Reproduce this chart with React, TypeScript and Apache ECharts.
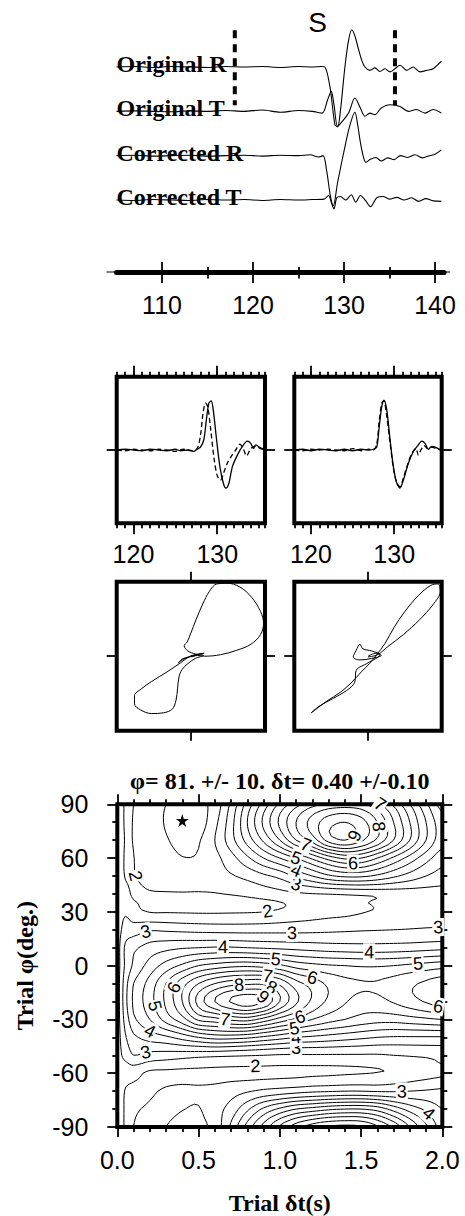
import React, { useEffect, useRef } from "react";
import * as echarts from "echarts";

const SANS = '"Liberation Sans", Arial, Helvetica, sans-serif';
const SERIF = '"Liberation Serif", "Times New Roman", Times, serif';

// ---------------- panel 1 : seismograms (time s, amplitude in trace spacings) ----------------
const TRACE_NAMES = ["Original R", "Original T", "Corrected R", "Corrected T"];
const ORIG_R = [[105,0],[107,0.01],[109,-0.01],[111,0.01],[113,0],[115,-0.01],[117,0.01],[119,0],[121,0.01],[123,-0.01],[125,0.01],[126.5,0],[127.5,0.01],[127.9,0],[128.46,-0.45],[129.0,-1.3],[129.3,-1.35],[129.6,-1.0],[130.1,0],[130.5,0.6],[130.85,0.84],[131.2,0.7],[131.57,0.42],[131.95,0.15],[132.3,0],[132.85,-0.075],[133.4,-0.02],[133.95,-0.1],[134.5,-0.04],[135.05,-0.11],[135.6,-0.04],[136.15,0.04],[136.88,-0.075],[137.6,0],[138.35,-0.11],[139.1,-0.075],[139.8,-0.04],[140.7,0.13]];
const ORIG_T = [[105,0],[107,0.01],[109,0],[111,-0.01],[113,0.01],[115,0],[117,0.02],[119,0],[121,0.03],[123,-0.02],[125,0.02],[126.5,0],[127.6,-0.04],[128.2,0.26],[128.6,0.45],[128.9,0.15],[129.3,-0.34],[129.8,-0.23],[130.5,-0.04],[131.2,0.3],[131.8,0.075],[132.3,-0.11],[132.85,-0.04],[133.4,-0.075],[134.1,0.075],[135.05,0.15],[136.15,0.11],[137.05,0],[137.97,0.04],[138.9,-0.04],[139.8,0.04],[140.7,-0.04]];
const CORR_R = [[105,0],[107,0.01],[109,-0.01],[111,0],[113,0.01],[115,-0.01],[117,0],[119,0.01],[121,-0.01],[123,0.01],[125,0],[126.3,0.02],[127.2,-0.03],[127.7,0],[128.1,-0.35],[128.5,-0.9],[128.82,-1.13],[129.3,-0.6],[130.0,0.1],[130.6,0.65],[131.2,0.98],[131.5,0.7],[131.8,0.3],[132.1,0],[132.4,-0.15],[132.9,-0.08],[133.5,-0.04],[134.1,-0.12],[134.8,-0.05],[135.5,-0.09],[136.2,0],[137.0,-0.04],[137.8,0.02],[138.6,-0.05],[139.4,0],[140.0,0.03],[140.7,0.13]];
const CORR_T = [[105,0],[107,-0.01],[109,0.01],[111,0],[113,-0.01],[115,0.01],[117,0],[119,0.01],[121,-0.01],[123,0.01],[125,0],[126.5,0.01],[127.8,0.02],[128.3,0.1],[128.6,-0.05],[128.9,-0.2],[129.2,0.05],[129.6,0.08],[130.2,0],[130.8,0.12],[131.3,-0.05],[131.8,0.1],[132.4,-0.02],[132.9,-0.15],[133.6,0.05],[134.3,0.08],[135.0,0.02],[135.8,0.06],[136.6,0],[137.4,0.05],[138.2,-0.03],[139.0,0.03],[139.8,-0.02],[140.7,-0.03]];
const TRACES = [ORIG_R, ORIG_T, CORR_R, CORR_T];
const WINDOW_T = [118.0, 135.6];
const WINDOW_TOP = 0.83;
const WINDOW_BOTTOM = -0.86;
const PHASE_NAME = "S";
const PHASE_T = 127.1;
const PHASE_Y = 1.0;
const TRACE_TICKS = [110, 120, 130, 140];
const TRACE_MINOR_TICKS = [115, 125, 135];

// ---------------- panel 2 : fast / slow overlays ----------------
const WAVE_TICKS = [120, 130];
const LEFT_SOLID = [[118,0],[119,0.01],[120,0],[121,-0.01],[122,0.01],[123,0],[124,-0.01],[125,0.01],[125.6,-0.01],[126.5,0],[127.2,-0.02],[127.6,0.01],[128.0,0.04],[128.4,0.14],[128.7,0.41],[129.0,0.64],[129.28,0.67],[129.52,0.55],[129.92,0.14],[130.32,-0.23],[130.72,-0.45],[131.04,-0.52],[131.4,-0.45],[131.8,-0.23],[132.4,-0.07],[133.0,0.05],[133.6,0.12],[134.0,0.09],[134.33,0.02],[134.6,0.07],[135.0,0.04],[135.6,0.01]];
const LEFT_DASHED = [[118,0],[119,-0.01],[120,0.01],[121,0],[122,-0.01],[123,0.01],[124,0],[125,-0.02],[126,0.01],[127,-0.01],[127.6,0.02],[128.0,0.2],[128.3,0.5],[128.6,0.64],[128.85,0.6],[129.2,0.3],[129.6,-0.1],[130.0,-0.35],[130.4,-0.41],[130.8,-0.3],[131.2,-0.18],[131.7,-0.08],[132.2,0],[132.7,0.08],[133.1,0.02],[133.5,-0.08],[134.0,0.02],[134.5,0.05],[135.0,0.03],[135.6,0]];
const RIGHT_SOLID = [[118,0],[119,0.01],[120,-0.01],[121,0.01],[122,0],[123,-0.01],[124,0.01],[125,-0.01],[126,0.01],[127,0],[127.5,0.01],[127.9,0.04],[128.2,0.32],[128.5,0.59],[128.77,0.68],[129.1,0.55],[129.5,0.14],[129.9,-0.23],[130.3,-0.45],[130.69,-0.52],[131.1,-0.41],[131.7,-0.18],[132.3,-0.02],[132.9,0.07],[133.3,0.12],[133.7,0.09],[134.1,0.01],[134.5,0.05],[134.9,0.04],[135.6,0]];
const RIGHT_DASHED = [[118,0],[119,-0.01],[120,0.01],[121,0],[122,0.01],[123,0],[124,-0.01],[125,0.02],[126,-0.01],[127,0.01],[127.5,0],[127.9,0.08],[128.2,0.4],[128.5,0.64],[128.75,0.67],[129.05,0.5],[129.5,0.1],[129.9,-0.25],[130.3,-0.45],[130.7,-0.5],[131.1,-0.38],[131.6,-0.2],[132.1,-0.05],[132.6,0.02],[132.9,-0.07],[133.2,0],[133.6,0.06],[134.0,0.02],[134.5,0.04],[135.0,0.02],[135.6,0]];

// ---------------- panel 3 : particle motion (normalised) ----------------
const PM_LEFT = [[0,0],[0.1,0.03],[0.18,0.04],[0.06,0.01],[-0.08,-0.03],[-0.17,-0.09],[-0.12,-0.04],[-0.03,-0.01],[0.08,0.02],[-0.01,0],[-0.14,-0.09],[-0.32,-0.21],[-0.53,-0.34],[-0.67,-0.44],[-0.76,-0.53],[-0.76,-0.64],[-0.68,-0.72],[-0.53,-0.77],[-0.37,-0.76],[-0.25,-0.71],[-0.2,-0.59],[-0.18,-0.44],[-0.16,-0.28],[-0.12,-0.18],[-0.04,-0.1],[0.06,-0.03],[0.17,0.01],[0.06,0.03],[-0.04,0.07],[-0.09,0.14],[-0.05,0.19],[0,0.31],[0.07,0.49],[0.16,0.7],[0.25,0.87],[0.35,0.97],[0.49,0.98],[0.66,0.93],[0.82,0.79],[0.94,0.6],[0.98,0.44],[0.94,0.29],[0.81,0.16],[0.62,0.08],[0.4,0.02],[0.19,0],[0.09,0.01],[0.01,-0.01]];
const PM_RIGHT = [[0,0],[0.11,0.04],[0.18,0.01],[0.05,-0.03],[-0.11,-0.05],[-0.2,-0.01],[-0.16,0.08],[-0.11,0.16],[-0.07,0.1],[0.05,0.07],[0.16,0.02],[0,-0.09],[-0.16,-0.19],[-0.18,-0.35],[-0.29,-0.46],[-0.48,-0.57],[-0.66,-0.67],[-0.77,-0.76],[-0.73,-0.73],[-0.57,-0.61],[-0.37,-0.48],[-0.23,-0.36],[-0.09,-0.21],[0.02,-0.1],[0.11,0.01],[0.23,0.17],[0.35,0.38],[0.5,0.6],[0.68,0.81],[0.85,0.95],[0.95,0.97],[0.98,0.87],[0.88,0.69],[0.7,0.49],[0.48,0.29],[0.27,0.13],[0.13,0.02],[0,-0.01]];

// ---------------- panel 4 : energy grid (rows = trial phi, cols = trial dt) ----------------
const DT_GRID = [0, 0.05, 0.1, 0.2, 0.3, 0.4, 0.5, 0.6, 0.7, 0.8, 0.9, 1.0, 1.1, 1.2, 1.3, 1.4, 1.5, 1.6, 1.7, 1.8, 1.9, 2.0];
const PHI_GRID = [90, 80, 70, 60, 50, 40, 35, 30, 20, 10, 0, -10, -20, -30, -40, -50, -55, -60, -70, -80, -90];
const ENERGY = [
  [2.3,1.95,2.0,2.15,2.0,1.75,1.85,2.2,3.1,4.2,5.2,6.1,6.8,7.3,7.6,7.7,7.6,7.1,6.4,5.5,4.6,3.8],
  [2.3,1.95,2.02,2.2,1.95,1.6,1.75,2.35,3.3,4.5,5.6,6.6,7.5,8.2,8.8,9.0,8.7,8.0,7.0,6.0,5.0,4.2],
  [2.3,1.97,2.02,2.25,2.05,1.8,1.95,2.5,3.3,4.2,5.1,6.0,7.0,7.7,8.7,9.0,8.6,7.9,7.0,6.0,5.0,4.2],
  [2.3,1.95,1.99,2.3,2.2,2.02,2.05,2.35,2.8,3.4,4.0,4.5,5.0,5.6,6.2,6.6,6.5,6.0,5.4,4.8,4.2,3.7],
  [2.3,1.97,1.98,2.2,2.3,2.25,2.2,2.3,2.45,2.65,2.9,3.15,3.6,4.0,4.4,4.6,4.6,4.4,4.1,3.8,3.5,3.3],
  [2.3,2.15,1.93,1.96,1.96,1.97,1.97,1.98,2.03,2.12,2.25,2.35,2.42,2.48,2.52,2.57,2.62,2.67,2.72,2.75,2.78,2.8],
  [2.3,2.3,2.05,1.88,1.85,1.83,1.83,1.83,1.84,1.86,1.9,1.98,2.08,2.18,2.28,2.38,2.46,2.55,2.62,2.68,2.74,2.8],
  [2.3,2.45,2.2,1.98,1.97,1.96,1.95,1.95,1.96,1.97,2.0,2.1,2.2,2.28,2.35,2.4,2.47,2.56,2.65,2.75,2.83,2.9],
  [2.3,2.7,2.75,2.95,2.92,2.88,2.85,2.83,2.82,2.82,2.83,2.84,2.85,2.87,2.9,2.93,2.96,2.98,3.0,3.02,3.04,3.05],
  [2.3,3.1,3.4,3.7,3.85,3.95,4.0,4.05,4.05,4.0,3.95,3.9,3.85,3.8,3.75,3.72,3.7,3.7,3.72,3.75,3.8,3.85],
  [2.3,3.1,3.6,4.2,4.7,5.1,5.5,5.7,5.85,5.9,5.8,5.6,5.3,5.15,5.05,5.0,4.95,4.95,5.0,5.1,5.2,5.3],
  [2.3,3.3,4.0,4.7,5.5,6.3,7.0,7.5,7.8,7.9,7.9,7.4,6.7,6.3,5.9,5.65,5.55,5.55,5.7,5.9,6.1,6.3],
  [2.3,3.35,4.1,4.8,5.6,6.5,7.7,8.5,9.05,9.3,9.0,8.0,7.1,6.4,5.9,5.55,5.3,5.35,5.55,5.8,6.05,6.3],
  [2.3,3.2,3.9,4.5,5.2,5.8,6.6,6.8,7.1,7.2,6.8,6.3,5.9,5.5,5.2,5.0,4.8,4.7,4.7,4.8,4.9,5.0],
  [2.3,2.95,3.4,3.7,3.9,4.2,4.5,4.7,4.7,4.6,4.4,4.2,4.0,3.9,3.8,3.7,3.6,3.5,3.45,3.45,3.45,3.45],
  [2.3,2.7,3.0,2.85,2.8,2.75,2.7,2.65,2.6,2.55,2.5,2.45,2.45,2.45,2.45,2.45,2.45,2.45,2.5,2.55,2.6,2.65],
  [2.3,2.4,2.55,2.35,2.3,2.25,2.2,2.15,2.12,2.1,2.08,2.05,2.05,2.05,2.05,2.06,2.08,2.12,2.2,2.3,2.4,2.5],
  [2.3,2.2,2.15,1.9,1.88,1.85,1.83,1.82,1.82,1.82,1.83,1.85,1.87,1.9,1.92,1.95,1.98,2.02,2.1,2.2,2.3,2.4],
  [2.3,1.97,1.9,1.95,2.05,2.1,2.08,2.15,2.3,2.45,2.6,2.7,2.8,2.9,2.95,3.0,3.0,2.95,2.95,3.0,3.05,3.1],
  [2.3,1.95,1.97,2.05,2.15,2.02,1.97,2.3,2.7,3.4,4.1,4.6,5.0,5.2,5.4,5.5,5.5,5.3,4.8,4.3,3.9,3.5],
  [2.3,1.95,2.0,2.15,2.0,1.75,1.85,2.2,3.1,4.2,5.2,6.1,6.8,7.3,7.6,7.7,7.6,7.1,6.4,5.5,4.6,3.8],
];
const CONTOUR_LEVELS = [2, 2.5, 3, 3.5, 4, 4.5, 5, 5.5, 6, 6.5, 7, 7.5, 8, 8.5, 9];
const CONTOUR_LABELS = [
  [0.13,50,2],[0.93,27,2],[0.84,-57,2],
  [0.18,19.4,3],[1.08,16,3],[1.97,21.5,3],[1.09,45,3],[0.19,-52,3],[1.09,-46,3],[1.76,-71,3],
  [1.09,52,4],[0.65,11,4],[1.55,6.5,4],[0.21,-36,4],[1.09,-39.6,4],[1.9,-83,4],
  [1.1,59,5],[0.97,4.8,5],[1.85,2,5],[0.26,-21,5],[1.09,-34,5],
  [1.44,57.5,6],[0.37,-12,6],[1.2,-5.6,6],[1.12,-28.5,6],[1.99,-15.7,6],
  [1.17,68.5,7],[1.59,87,7],[0.94,-3.6,7],[0.66,-28.5,7],
  [1.6,77,8],[0.755,-8.3,8],[0.96,-9,8],
  [1.47,71,9],[0.92,-17.4,9],
];
const BEST_DT = 0.4;
const BEST_PHI = 81;
const RESULT_TITLE = "\u03c6= 81. +/- 10. \u03b4t= 0.40 +/-0.10";
const DT_NAME = "Trial \u03b4t(s)";
const PHI_NAME = "Trial \u03c6(deg.)";

// ---------------- layout ----------------
const G_TRACE = { left: 116.5, top: 13.8, width: 327.6, height: 258.2 };
const TRACE_YMIN = -4.624, TRACE_YMAX = 1.2;
const G_WL = { left: 116.7, top: 376.7, width: 148.3, height: 146.6 };
const G_WR = { left: 294.3, top: 376.7, width: 147.4, height: 146.6 };
const G_PL = { left: 116.7, top: 581.7, width: 148.3, height: 149 };
const G_PR = { left: 294.3, top: 581.7, width: 147.4, height: 149 };
const G_C = { left: 117.3, top: 804.3, width: 325, height: 324.7 };

// ---------------- contouring ----------------
function cr(p0: number, p1: number, p2: number, p3: number, t: number) {
  const t2 = t * t, t3 = t2 * t;
  return 0.5 * (2 * p1 + (-p0 + p2) * t + (2 * p0 - 5 * p1 + 4 * p2 - p3) * t2 + (-p0 + 3 * p1 - 3 * p2 + p3) * t3);
}
function lerpArr(arr: number[], f: number) {
  const i = Math.min(Math.floor(f), arr.length - 2);
  const t = f - i;
  return arr[i] + (arr[i + 1] - arr[i]) * t;
}
const UP = 4;
function buildField() {
  const R = PHI_GRID.length, C = DT_GRID.length;
  const nC = (C - 1) * UP + 1, nR = (R - 1) * UP + 1, per = R - 1;
  const cc = (row: number[], i: number) => row[Math.max(0, Math.min(C - 1, i))];
  const tmp = ENERGY.map((row) => {
    const out: number[] = [];
    for (let k = 0; k < nC; k++) {
      const f = k / UP;
      const i = Math.min(Math.floor(f), C - 2);
      const t = f - i;
      out.push(cr(cc(row, i - 1), row[i], row[i + 1], cc(row, i + 2), t));
    }
    return out;
  });
  const ta = (j: number) => tmp[((j % per) + per) % per];
  const Z: number[][] = [];
  for (let k = 0; k < nR; k++) {
    const f = k / UP;
    const j = Math.min(Math.floor(f), R - 2);
    const t = f - j;
    const a = ta(j - 1), b = tmp[j], c = tmp[j + 1], d = ta(j + 2);
    const row: number[] = [];
    for (let q = 0; q < nC; q++) row.push(cr(a[q], b[q], c[q], d[q], t));
    Z.push(row);
  }
  const xs = Array.from({ length: nC }, (_, k) => lerpArr(DT_GRID, k / UP));
  const ys = Array.from({ length: nR }, (_, k) => lerpArr(PHI_GRID, k / UP));
  return { Z, xs, ys };
}
function contourLevel(Z: number[][], xs: number[], ys: number[], L: number) {
  const nR = Z.length, nC = Z[0].length;
  const pts = new Map<string, number[]>();
  const segs: [string, string][] = [];
  const hp = (r: number, c: number) => {
    const k = "h" + r + "_" + c;
    if (!pts.has(k)) { const v1 = Z[r][c], v2 = Z[r][c + 1]; const t = (L - v1) / (v2 - v1); pts.set(k, [xs[c] + t * (xs[c + 1] - xs[c]), ys[r]]); }
    return k;
  };
  const vp = (r: number, c: number) => {
    const k = "v" + r + "_" + c;
    if (!pts.has(k)) { const v1 = Z[r][c], v2 = Z[r + 1][c]; const t = (L - v1) / (v2 - v1); pts.set(k, [xs[c], ys[r] + t * (ys[r + 1] - ys[r])]); }
    return k;
  };
  for (let r = 0; r < nR - 1; r++) {
    for (let c = 0; c < nC - 1; c++) {
      const a = Z[r][c], b = Z[r][c + 1], e = Z[r + 1][c + 1], d = Z[r + 1][c];
      const idx = (a >= L ? 8 : 0) | (b >= L ? 4 : 0) | (e >= L ? 2 : 0) | (d >= L ? 1 : 0);
      if (idx === 0 || idx === 15) continue;
      const T = () => hp(r, c), B = () => hp(r + 1, c), Lf = () => vp(r, c), Rt = () => vp(r, c + 1);
      const cen = (a + b + e + d) / 4;
      switch (idx) {
        case 1: case 14: segs.push([Lf(), B()]); break;
        case 2: case 13: segs.push([B(), Rt()]); break;
        case 3: case 12: segs.push([Lf(), Rt()]); break;
        case 4: case 11: segs.push([T(), Rt()]); break;
        case 6: case 9: segs.push([T(), B()]); break;
        case 7: case 8: segs.push([Lf(), T()]); break;
        case 5:
          if (cen >= L) { segs.push([Lf(), T()]); segs.push([B(), Rt()]); } else { segs.push([Lf(), B()]); segs.push([T(), Rt()]); }
          break;
        case 10:
          if (cen >= L) { segs.push([T(), Rt()]); segs.push([Lf(), B()]); } else { segs.push([Lf(), T()]); segs.push([B(), Rt()]); }
          break;
      }
    }
  }
  const adj = new Map<string, number[]>();
  segs.forEach(([p, q], i) => {
    if (!adj.has(p)) adj.set(p, []);
    if (!adj.has(q)) adj.set(q, []);
    adj.get(p)!.push(i); adj.get(q)!.push(i);
  });
  const used = new Array(segs.length).fill(false);
  const lines: number[][][] = [];
  for (let i = 0; i < segs.length; i++) {
    if (used[i]) continue;
    used[i] = true;
    const chain = [segs[i][0], segs[i][1]];
    let cur = chain[1];
    for (;;) {
      const nx = (adj.get(cur) || []).find((j) => !used[j]);
      if (nx === undefined) break;
      used[nx] = true;
      const [p, q] = segs[nx];
      cur = p === cur ? q : p;
      chain.push(cur);
    }
    cur = chain[0];
    for (;;) {
      const nx = (adj.get(cur) || []).find((j) => !used[j]);
      if (nx === undefined) break;
      used[nx] = true;
      const [p, q] = segs[nx];
      cur = p === cur ? q : p;
      chain.unshift(cur);
    }
    lines.push(chain.map((k) => pts.get(k)!));
  }
  return lines;
}

function buildOption() {
  const { Z, xs, ys } = buildField();
  const byLevel = new Map<number, number[][][]>();
  const contourData: any[] = [];
  CONTOUR_LEVELS.forEach((L) => {
    const ls = contourLevel(Z, xs, ys, L);
    byLevel.set(L, ls);
    ls.forEach((l) => contourData.push({ coords: l }));
  });
  const pxDt = G_C.width / 2, pxDeg = G_C.height / 180;
  const labelData = CONTOUR_LABELS.map(([x, y, lev]) => {
    const ls = byLevel.get(lev) || [];
    let best: any = null, bd = Infinity;
    ls.forEach((ln) => ln.forEach((p, i) => {
      const dx = (p[0] - x) * pxDt, dy = (p[1] - y) * pxDeg;
      const d = dx * dx + dy * dy;
      if (d < bd) { bd = d; best = { ln, i }; }
    }));
    let px = x, py = y, rot = 0;
    if (best && bd < 400) {
      const { ln, i } = best;
      px = ln[i][0]; py = ln[i][1];
      const a = ln[Math.max(0, i - 2)], b = ln[Math.min(ln.length - 1, i + 2)];
      let ang = (Math.atan2((b[1] - a[1]) * pxDeg, (b[0] - a[0]) * pxDt) * 180) / Math.PI;
      if (ang > 90) ang -= 180;
      if (ang < -90) ang += 180;
      rot = ang;
    }
    return { value: [px, py], name: String(lev), label: { rotate: rot } };
  });

  const tickStyle = { color: "#000", width: 1.8 };
  const labelFont = { fontFamily: SANS, fontSize: 25, color: "#000" };
  const noLine = { show: false, onZero: false };
  const noSplit = { show: false };
  const hiddenY = (g: number) => ({ type: "value", gridIndex: g, min: -1, max: 1, show: false, axisLine: { onZero: false } });

  const grids: any[] = [];
  const xAxes: any[] = [];
  const yAxes: any[] = [];
  const addGrid = (g: any) => { grids.push(g); return grids.length - 1; };
  const addX = (a: any) => { xAxes.push(a); return xAxes.length - 1; };
  const addY = (a: any) => { yAxes.push(a); return yAxes.length - 1; };
  const frame = { show: true, borderColor: "#000", borderWidth: 4, backgroundColor: "transparent" };

  // --- grid : seismograms
  const gT = addGrid({ ...G_TRACE, show: false });
  const xT = addX({ type: "value", gridIndex: gT, position: "bottom", min: 105, max: 141,
    axisLine: { show: true, onZero: false, lineStyle: { color: "#000", width: 5 } }, splitLine: noSplit,
    axisTick: { show: true, customValues: TRACE_TICKS, length: 11, lineStyle: tickStyle },
    axisLabel: { show: true, customValues: TRACE_TICKS, margin: 20, ...labelFont } });
  const yT = addY({ type: "value", gridIndex: gT, min: TRACE_YMIN, max: TRACE_YMAX, show: false, axisLine: { onZero: false } });
  const axisYpx = G_TRACE.top + G_TRACE.height;
  // thin helper strips at the axis line carry the remaining tick sets
  const stripA = addGrid({ left: G_TRACE.left, width: G_TRACE.width, top: axisYpx, height: 0.5, show: false });
  addX({ type: "value", gridIndex: stripA, position: "top", min: 105, max: 141, axisLine: noLine, splitLine: noSplit,
    axisTick: { show: true, customValues: TRACE_TICKS, length: 10, lineStyle: tickStyle }, axisLabel: { show: false } });
  addX({ type: "value", gridIndex: stripA, position: "bottom", min: 105, max: 141, axisLine: noLine, splitLine: noSplit,
    axisTick: { show: true, customValues: TRACE_MINOR_TICKS, length: 6, lineStyle: tickStyle }, axisLabel: { show: false } });
  addY(hiddenY(stripA));
  const stripB = addGrid({ left: G_TRACE.left, width: G_TRACE.width, top: axisYpx, height: 0.5, show: false });
  addX({ type: "value", gridIndex: stripB, position: "top", min: 105, max: 141, axisLine: noLine, splitLine: noSplit,
    axisTick: { show: true, customValues: TRACE_MINOR_TICKS, length: 5, lineStyle: tickStyle }, axisLabel: { show: false } });
  addY(hiddenY(stripB));

  // --- wave boxes
  const waveAxes = (rect: any) => {
    const g = addGrid({ ...rect, ...frame });
    const base = { type: "value", gridIndex: g, min: 118, max: 135.7, axisLine: noLine, splitLine: noSplit };
    const xi = addX({ ...base, position: "bottom", axisTick: { show: true, customValues: WAVE_TICKS, length: 11, lineStyle: tickStyle },
      axisLabel: { show: true, customValues: WAVE_TICKS, margin: 18, ...labelFont } });
    addX({ ...base, position: "top", axisTick: { show: true, customValues: WAVE_TICKS, length: 11, lineStyle: tickStyle }, axisLabel: { show: false } });
    const yi = addY({ type: "value", gridIndex: g, position: "left", min: -1, max: 1, axisLine: noLine, splitLine: noSplit,
      axisTick: { show: true, customValues: [0], length: 10, lineStyle: tickStyle }, axisLabel: { show: false } });
    addY({ type: "value", gridIndex: g, position: "right", min: -1, max: 1, axisLine: noLine, splitLine: noSplit,
      axisTick: { show: true, customValues: [0], length: 10, lineStyle: tickStyle }, axisLabel: { show: false } });
    const g2 = addGrid({ ...rect, show: false });
    const base2 = { type: "value", gridIndex: g2, min: 118, max: 135.7, interval: 1, axisLine: noLine, splitLine: noSplit,
      axisTick: { show: true, length: 5, lineStyle: tickStyle }, axisLabel: { show: false } };
    addX({ ...base2, position: "bottom" });
    addX({ ...base2, position: "top" });
    addY(hiddenY(g2));
    return [xi, yi];
  };
  const [xWL, yWL] = waveAxes(G_WL);
  const [xWR, yWR] = waveAxes(G_WR);

  // --- particle motion boxes
  const pmAxes = (rect: any) => {
    const g = addGrid({ ...rect, ...frame });
    const t = { show: true, customValues: [0], length: 10, lineStyle: tickStyle };
    const xi = addX({ type: "value", gridIndex: g, position: "bottom", min: -1, max: 1, axisLine: noLine, splitLine: noSplit, axisTick: t, axisLabel: { show: false } });
    addX({ type: "value", gridIndex: g, position: "top", min: -1, max: 1, axisLine: noLine, splitLine: noSplit, axisTick: t, axisLabel: { show: false } });
    const yi = addY({ type: "value", gridIndex: g, position: "left", min: -1, max: 1, axisLine: noLine, splitLine: noSplit, axisTick: t, axisLabel: { show: false } });
    addY({ type: "value", gridIndex: g, position: "right", min: -1, max: 1, axisLine: noLine, splitLine: noSplit, axisTick: t, axisLabel: { show: false } });
    return [xi, yi];
  };
  const [xPL, yPL] = pmAxes(G_PL);
  const [xPR, yPR] = pmAxes(G_PR);

  // --- contour map
  const gC = addGrid({ ...G_C, ...frame });
  const xc = { type: "value", gridIndex: gC, min: 0, max: 2, interval: 0.5, axisLine: noLine, splitLine: noSplit,
    axisTick: { show: true, length: 10, lineStyle: tickStyle }, minorTick: { show: true, splitNumber: 5, length: 5, lineStyle: tickStyle }, minorSplitLine: { show: false } };
  const xC = addX({ ...xc, position: "bottom", axisLabel: { show: true, margin: 20, formatter: (v: number) => v.toFixed(1), ...labelFont },
    name: DT_NAME, nameLocation: "middle", nameGap: 64, nameTextStyle: { fontFamily: SERIF, fontWeight: "bold", fontSize: 24, color: "#000" } });
  addX({ ...xc, position: "top", axisLabel: { show: false } });
  const yc = { type: "value", gridIndex: gC, min: -90, max: 90, interval: 30, axisLine: noLine, splitLine: noSplit,
    axisTick: { show: true, length: 10, lineStyle: tickStyle }, minorTick: { show: true, splitNumber: 3, length: 5, lineStyle: tickStyle }, minorSplitLine: { show: false } };
  const yC = addY({ ...yc, position: "left", axisLabel: { show: true, margin: 29, ...labelFont },
    name: PHI_NAME, nameLocation: "middle", nameGap: 80, nameRotate: 90, nameTextStyle: { fontFamily: SERIF, fontWeight: "bold", fontSize: 24, color: "#000" } });
  addY({ ...yc, position: "right", axisLabel: { show: false } });

  const thin = (w = 1.1) => ({ color: "#000", width: w });
  const solidItem = { opacity: 1, color: "#000" };
  const series: any[] = [];
  TRACES.forEach((tr, i) => series.push({ type: "line", xAxisIndex: xT, yAxisIndex: yT, data: tr.map(([t, a]) => [t, a - i]),
    showSymbol: false, symbol: "none", smooth: 0.3, lineStyle: thin(1.1), z: 3 }));
  WINDOW_T.forEach((t) => series.push({ type: "line", xAxisIndex: xT, yAxisIndex: yT, data: [[t, WINDOW_TOP], [t, WINDOW_BOTTOM]],
    showSymbol: false, symbol: "none", lineStyle: { color: "#000", width: 4, type: [8, 6] } }));
  series.push({ type: "scatter", xAxisIndex: xT, yAxisIndex: yT, symbolSize: 0, clip: false, z: 2, itemStyle: solidItem, emphasis: { disabled: true },
    data: TRACE_NAMES.map((n, i) => ({ name: n, value: [105, -i] })),
    label: { show: true, position: "right", distance: 0, formatter: "{b}", fontFamily: SERIF, fontWeight: "bold", fontSize: 24, color: "#000", opacity: 1, offset: [0, -3] } });
  series.push({ type: "scatter", xAxisIndex: xT, yAxisIndex: yT, symbolSize: 0, clip: false, itemStyle: solidItem, emphasis: { disabled: true },
    data: [{ name: PHASE_NAME, value: [PHASE_T, PHASE_Y] }],
    label: { show: true, position: "inside", formatter: "{b}", fontFamily: SANS, fontSize: 28, color: "#000", opacity: 1 } });

  const wave = (xi: number, yi: number, d: number[][], dashed: boolean) => ({ type: "line", xAxisIndex: xi, yAxisIndex: yi, data: d,
    showSymbol: false, symbol: "none", smooth: 0.3, lineStyle: { color: "#000", width: 1.3, type: dashed ? [5, 3] : "solid" } });
  series.push(wave(xWL, yWL, LEFT_SOLID, false), wave(xWL, yWL, LEFT_DASHED, true));
  series.push(wave(xWR, yWR, RIGHT_SOLID, false), wave(xWR, yWR, RIGHT_DASHED, true));
  series.push({ type: "line", xAxisIndex: xPL, yAxisIndex: yPL, data: PM_LEFT, showSymbol: false, symbol: "none", smooth: 0.35, lineStyle: thin(1) });
  series.push({ type: "line", xAxisIndex: xPR, yAxisIndex: yPR, data: PM_RIGHT, showSymbol: false, symbol: "none", smooth: 0.35, lineStyle: thin(1) });

  series.push({ type: "lines", coordinateSystem: "cartesian2d", xAxisIndex: xC, yAxisIndex: yC, polyline: true, data: contourData,
    lineStyle: { color: "#000", width: 1, opacity: 1 }, silent: true, z: 2 });
  series.push({ type: "scatter", xAxisIndex: xC, yAxisIndex: yC, symbolSize: 0, clip: false, z: 5, data: labelData, itemStyle: solidItem, emphasis: { disabled: true },
    label: { show: true, position: "inside", formatter: "{b}", fontFamily: SANS, fontSize: 18, color: "#000", opacity: 1, backgroundColor: "#fff", padding: [0, 1] } });
  series.push({ type: "scatter", xAxisIndex: xC, yAxisIndex: yC, z: 6, data: [[BEST_DT, BEST_PHI]], symbolSize: 13,
    symbol: "path://M50,0 L61,35 L98,35 L68,57 L79,91 L50,70 L21,91 L32,57 L2,35 L39,35 Z", itemStyle: solidItem, emphasis: { disabled: true } });

  return {
    animation: false,
    backgroundColor: "#fff",
    title: [{ text: RESULT_TITLE, left: G_C.left + G_C.width / 2, top: 769, textAlign: "center", padding: 0,
      textStyle: { fontFamily: SERIF, fontWeight: "bold", fontSize: 24, color: "#000" } }],
    graphic: [{ type: "line", shape: { x1: G_TRACE.left - 10, y1: axisYpx, x2: G_TRACE.left + G_TRACE.width + 6, y2: axisYpx },
      style: { stroke: "#000", lineWidth: 1.2 }, z: 0 }],
    grid: grids,
    xAxis: xAxes,
    yAxis: yAxes,
    series,
  };
}

export default function App() {
  const ref = useRef<HTMLDivElement>(null);
  useEffect(() => {
    const chart = echarts.init(ref.current!, null, { renderer: "svg" });
    chart.setOption(buildOption() as any);
    return () => chart.dispose();
  }, []);
  return <div ref={ref} style={{ position: "absolute", left: 0, top: 0, width: 465, height: 1216, background: "#fff" }} />;
}
